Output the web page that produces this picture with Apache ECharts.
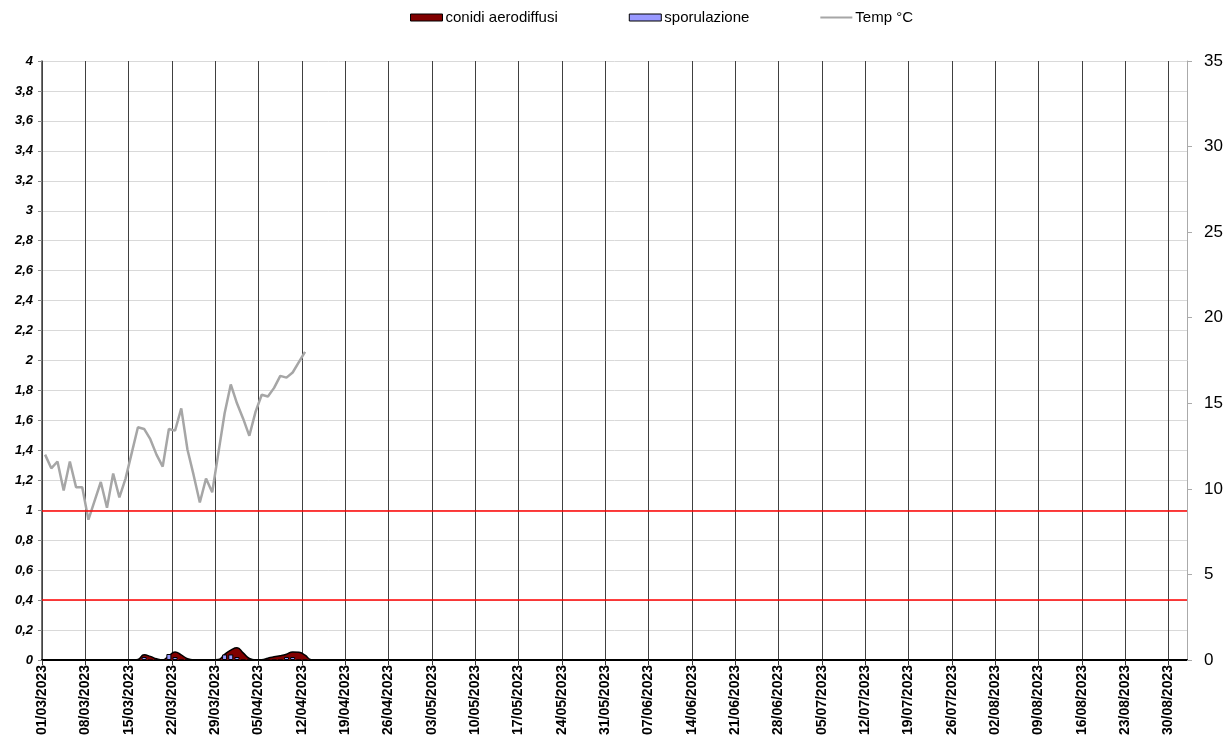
<!DOCTYPE html>
<html>
<head>
<meta charset="utf-8">
<script src="https://cdn.jsdelivr.net/npm/echarts@6/dist/echarts.min.js"></script>
<style>html,body{margin:0;padding:0;background:#fff;}#c{width:1228px;height:740px;}</style>
</head>
<body>
<div id="c"></div>
<script>
// ---- data ----
const startDate = [2023, 3, 1];   // 01/03/2023
const dayCount = 185;             // daily bands shown on the axis
const tickEvery = 7;              // labelled tick every 7 days

// Temperature (°C), daily from 01/03/2023
const temp = [12.0, 11.2, 11.6, 9.9, 11.6, 10.1, 10.1, 8.2, 9.3, 10.4,
  8.9, 10.9, 9.5, 10.6, 12.1, 13.6, 13.5, 12.9, 12.0, 11.3,
  13.5, 13.4, 14.7, 12.3, 10.8, 9.2, 10.6, 9.8, 12.1, 14.4,
  16.1, 15.0, 14.1, 13.1, 14.5, 15.5, 15.4, 15.9, 16.6, 16.5,
  16.8, 17.4, 18.0];

// conidi aerodiffusi, daily from 01/03/2023
const conidi = [0, 0, 0, 0, 0, 0, 0, 0, 0, 0,
  0, 0, 0, 0, 0, 0.004, 0.035, 0.024, 0.008, 0,
  0.028, 0.054, 0.034, 0.008, 0, 0, 0, 0, 0.003, 0.038,
  0.066, 0.082, 0.048, 0.01, 0, 0.002, 0.012, 0.022, 0.028, 0.038,
  0.054, 0.052, 0.032, 0.002, 0];

// sporulazione, daily from 01/03/2023
const sporulazione = [0, 0, 0, 0, 0, 0, 0, 0, 0, 0.003,
  0, 0.003, 0, 0, 0, 0, 0.02, 0, 0, 0,
  0.04, 0.02, 0, 0, 0, 0, 0.003, 0, 0, 0.037,
  0.037, 0.02, 0, 0, 0, 0, 0, 0, 0, 0.02,
  0.02, 0, 0, 0];

const thresholds = [1, 0.4];

// ---- build ----
function fmt(d){const dd=String(d.getDate()).padStart(2,'0');const mm=String(d.getMonth()+1).padStart(2,'0');return dd+'/'+mm+'/'+d.getFullYear();}
const tickLabels = [];
for (let i = 0; i <= dayCount; i++) { const d = new Date(startDate[0], startDate[1]-1, startDate[2]+i); tickLabels.push(fmt(d)); }
const dayCats = tickLabels.slice(0, dayCount);
function pad(arr){const out=arr.slice();while(out.length<dayCount)out.push(null);return out;}
const isTick = (i) => i % tickEvery === 0;

const chart = echarts.init(document.getElementById('c'), null, {renderer:'canvas'});
chart.setOption({
  animation: false,
  backgroundColor: '#fff',
  textStyle: {fontFamily: 'Liberation Sans, Arial, sans-serif'},
  legend: {
    top: 5, left: 405, itemGap: 71, itemWidth: 32, itemHeight: 7,
    textStyle: {fontSize: 15, color: '#000', fontFamily: 'Liberation Sans, Arial, sans-serif', padding: [0,0,0,-2]},
    data: [
      {name: 'conidi aerodiffusi', icon: 'rect', itemStyle: {color: '#800000', borderColor: '#000', borderWidth: 1}},
      {name: 'sporulazione', icon: 'rect', itemStyle: {color: '#9999ff', borderColor: '#000', borderWidth: 1}},
      {name: 'Temp °C', icon: 'path://M0 0 L32 0 M0 7 L32 7 M0 2.5 L32 2.5 L32 4.5 L0 4.5 Z',
        itemStyle: {color: '#a6a6a6', borderWidth: 0}}
    ]
  },
  grid: {left: 42, right: 41, top: 61, bottom: 80, containLabel: false},
  xAxis: [
    {
      type: 'category', data: tickLabels, boundaryGap: false, position: 'bottom',
      axisLine: {show: true, lineStyle: {color: '#000', width: 2}},
      axisTick: {show: true, interval: (i) => isTick(i), length: 5, lineStyle: {color: '#333'}},
      axisLabel: {interval: (i) => isTick(i), rotate: 90, fontSize: 14, fontWeight: 'bold', color: '#000', margin: 5},
      splitLine: {show: true, interval: (i) => isTick(i), lineStyle: {color: '#404040', width: 1}}
    },
    {type: 'category', data: dayCats, boundaryGap: true, show: false}
  ],
  yAxis: [
    {
      type: 'value', min: 0, max: 4, interval: 0.2,
      axisLine: {show: true, lineStyle: {color: '#444', width: 1.5}},
      axisTick: {show: true, length: 4, lineStyle: {color: '#888'}},
      axisLabel: {fontSize: 13, fontWeight: 'bold', fontStyle: 'italic', color: '#000', margin: 9,
        formatter: (v) => String(Math.round(v*10)/10).replace('.', ',')},
      splitLine: {show: true, lineStyle: {color: '#d9d9d9', width: 1}}
    },
    {
      type: 'value', min: 0, max: 35, interval: 5, position: 'right',
      axisLine: {show: true, lineStyle: {color: '#aaa', width: 1}},
      axisTick: {show: true, length: 5, lineStyle: {color: '#aaa'}},
      axisLabel: {fontSize: 17, color: '#000', margin: 17},
      splitLine: {show: false}
    }
  ],
  series: [
    {
      name: 'conidi aerodiffusi', type: 'line', xAxisIndex: 1, yAxisIndex: 0,
      data: pad(conidi), smooth: 0.5, symbol: 'none', showSymbol: false, connectNulls: false,
      itemStyle: {color: '#800000'},
      lineStyle: {color: '#000', width: 1.5},
      areaStyle: {color: '#800000', opacity: 1},
      z: 2,
      markLine: {
        silent: true, symbol: 'none', label: {show: false},
        lineStyle: {color: '#ff0000', width: 1.5, type: 'solid'},
        data: thresholds.map(v => ({yAxis: v}))
      }
    },
    {
      name: 'sporulazione', type: 'bar', xAxisIndex: 1, yAxisIndex: 0,
      data: pad(sporulazione), barWidth: 5,
      itemStyle: {color: '#9999ff', borderColor: '#000', borderWidth: 1},
      z: 3
    },
    {
      name: 'Temp °C', type: 'line', xAxisIndex: 1, yAxisIndex: 1,
      data: pad(temp), symbol: 'none', showSymbol: false,
      itemStyle: {color: '#a6a6a6'},
      lineStyle: {color: '#a6a6a6', width: 2.5},
      z: 4
    }
  ]
});
</script>
</body>
</html>
